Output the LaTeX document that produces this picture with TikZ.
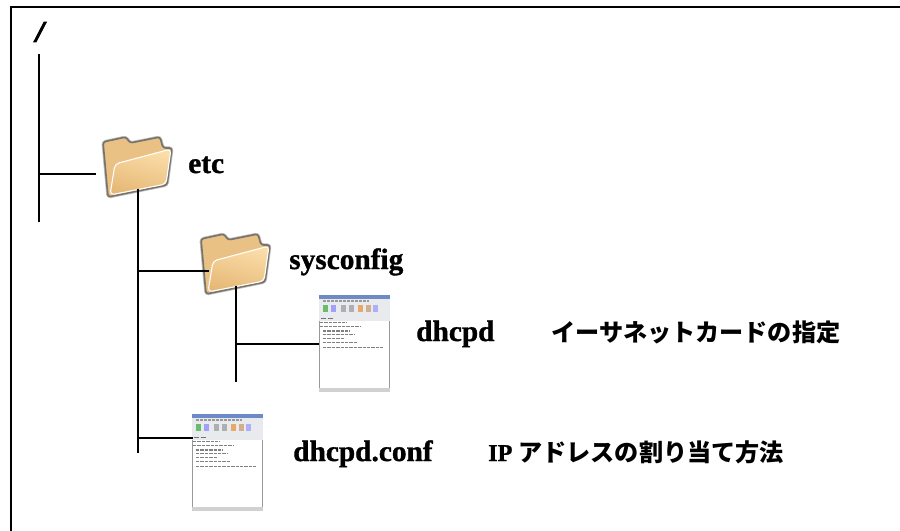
\documentclass[tikz,border=0pt]{standalone}
\usepackage{fontspec}
\setmainfont{Liberation Serif}[BoldFeatures={FakeBold=1.2}]
\newfontfamily\jpfont{Noto Sans CJK JP}
\newfontface\rootface{Liberation Serif Bold Italic}[FakeBold=4]
\usetikzlibrary{positioning, calc}

\definecolor{folderdark}{HTML}{E6B877}
\definecolor{folderback}{HTML}{E9C184}
\definecolor{folderlight}{HTML}{FBDDA8}
\definecolor{folderedge}{HTML}{77736C}
\definecolor{wintitle}{HTML}{6C8BC6}
\definecolor{winbar}{HTML}{E8EAEE}

\tikzset{
    treeline/.style={draw=black, line width=1.55pt, line cap=butt},
    nametext/.style={anchor=base west, inner sep=0pt, font=\fontsize{22}{24}\selectfont\bfseries},
    notetext/.style={anchor=base west, inner sep=0pt, font=\fontsize{18.1}{22}\selectfont\bfseries},
    foldernode/.style={anchor=north west, inner sep=0pt, minimum width=53.25pt, minimum height=39.75pt},
    docnode/.style={anchor=north west, inner sep=0pt, minimum width=53.25pt, minimum height=72.75pt},
    foldericon/.pic={
        \draw [draw=black!25, line width=2.4pt, line join=round, rounded corners=2pt]
            (1,7) -- (24,2) -- (28,8) -- (58,2) -- (61,13) -- (70,13) -- (65,50) -- (6,62) -- cycle;
        \draw [draw=folderedge, line width=1.2pt, line join=round, rounded corners=2pt, fill=folderback]
            (1,7) -- (24,2) -- (28,8) -- (58,2) -- (61,13) -- (70,13) -- (65,50) -- (6,62) -- cycle;
        \draw [draw=white, line width=0.8pt, line join=round, rounded corners=3pt, top color=folderlight, bottom color=folderdark, shading angle=-15]
            (13,29) -- (69,14) -- (64,49) -- (8,60) -- cycle;
    },
    windowicon/.pic={
        \fill [black!40] (0,0) rectangle (71,97);
        \fill [white] (1,0) rectangle (70.3,96.5);
        \fill [winbar] (0,0) rectangle (71,26);
        \fill [wintitle] (0,0) rectangle (71,4);
        \fill [black!18] (0,92.5) rectangle (71,97);
        \draw [black!40, line width=1.3pt, dash pattern=on 2pt off 1pt] (4,6) -- (50,6);
        \draw [black!55, line width=1.3pt, dash pattern=on 4pt off 1pt] (2,23.5) -- (14,23.5);
        \foreach \ix/\icolor in {4/green!60!black, 12/blue!60, 22/gray, 30/gray, 39/orange!90!black, 47/brown, 54/blue!50}
            \fill [\icolor, opacity=0.55] (\ix,10) rectangle ++(5,7);
        \foreach \lx/\ly/\lend in {1/27.7/28, 1/31.7/41, 4/36/31, 4/39.7/36, 4/43.3/26, 4/47.7/38, 4/52.3/64}
            \draw [black!50, line width=0.9pt, dash pattern=on 2.5pt off 0.8pt] (\lx,\ly) -- (\lend,\ly);
    }
}

\begin{document}
\begin{tikzpicture}[x=0.75pt, y=-0.75pt]
                    \useasboundingbox (0, 0) rectangle (900, 531);
                    \draw [line width=2pt] (11, 531) -- (11, 7) -- (900, 7);

                    \node [nametext] (Nroot) at (35.5, 41.5) { \rootface / };

                    \node [foldernode] (Fetc) at (102, 135) {};
                    \pic at (Fetc.north west) {foldericon};
                    \node [nametext] (Netc) at (188, 173) {etc};

                    \node [foldernode] (Fsys) at (200, 232) {};
                    \pic at (Fsys.north west) {foldericon};
                    \node [nametext] (Nsys) at (289, 269) {sysconfig};

                    \node [docnode] (Ddhcpd) at (319, 295) {};
                    \pic at (Ddhcpd.north west) {windowicon};
                    \node [nametext] (Ndhcpd) at (416, 341) {dhcpd};
                    \node [notetext] (Tdhcpd) at (551, 341) {\jpfont イーサネットカードの指定};

                    \node [docnode] (Dconf) at (192, 414) {};
                    \pic at (Dconf.north west) {windowicon};
                    \node [nametext] (Nconf) at (293, 461) {dhcpd.conf};
                    \node [notetext] (Tconf) at (488, 461) {IP {\jpfont アドレスの割り当て方法}};

                    \coordinate (Rtop) at (39, 54);
                    \coordinate (Rend) at (39, 222);
                    \coordinate (Retc) at (96, 174);
                    \coordinate (Eend) at (137.5, 453);
                    \coordinate (Esys) at (209, 271);
                    \coordinate (Econf) at (193, 438);
                    \coordinate (Send) at (235.5, 382);

                    \draw [treeline] (Rtop) -- (Rend);
                    \draw [treeline] (Rtop |- Retc) -- (Retc);
                    \draw [treeline] (Fetc.south) -- (Fetc.south |- Eend);
                    \draw [treeline] (Fetc.south |- Esys) -- (Esys);
                    \draw [treeline] (Fetc.south |- Econf) -- (Econf);
                    \draw [treeline] (Fsys.south) -- (Fsys.south |- Send);
                    \draw [treeline] (Fsys.south |- Ddhcpd.west) -- (Ddhcpd.west);
            \end{tikzpicture}
\end{document}
